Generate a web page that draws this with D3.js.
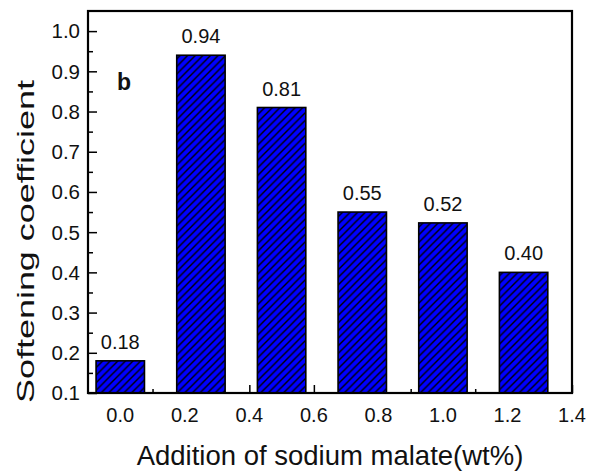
<!DOCTYPE html>
<html>
<head>
<meta charset="utf-8">
<script src="https://cdn.jsdelivr.net/npm/d3@7"></script>
<style>
  body { margin: 0; background: #fff; }
  text { font-family: "Liberation Sans", Arial, sans-serif; fill: #111; }
</style>
</head>
<body>
<div id="chart"></div>
<script>
const width = 593;
const height = 473;

// data
const additions = [0.0, 0.25, 0.5, 0.75, 1.0, 1.25];
const softening = [0.18, 0.94, 0.81, 0.55, 0.523, 0.40];
const valueLabels = ["0.18", "0.94", "0.81", "0.55", "0.52", "0.40"];
const xTicks = [0.0, 0.2, 0.4, 0.6, 0.8, 1.0, 1.2, 1.4];
const yTicks = [0.1, 0.2, 0.3, 0.4, 0.5, 0.6, 0.7, 0.8, 0.9, 1.0];

const margin = { left: 88, right: 21, top: 11, bottom: 80 };
const barWidth = 0.15;

const x = d3.scaleLinear().domain([-0.1, 1.4]).range([margin.left, width - margin.right]);
const y = d3.scaleLinear().domain([0.1, 1.05]).range([height - margin.bottom, margin.top]);

const svg = d3.select("#chart")
    .append("svg")
    .attr("width", width)
    .attr("height", height);

// hatch pattern
const defs = svg.append("defs");
const p = 7.6;
const pat = defs.append("pattern")
    .attr("id", "hatch")
    .attr("patternUnits", "userSpaceOnUse")
    .attr("width", p)
    .attr("height", p);
pat.append("rect").attr("width", p).attr("height", p).attr("fill", "#0000ff");
pat.append("path")
    .attr("d", `M0,${p}L${p},0M-1,1L1,-1M${p - 1},${p + 1}L${p + 1},${p - 1}`)
    .attr("stroke", "#000")
    .attr("stroke-width", 1.4);

// axes with inward ticks
const xAxis = d3.axisBottom(x)
    .tickValues(d3.range(0, 15).map(i => i / 10))
    .tickSize(-4)
    .tickFormat("");
const gx = svg.append("g")
    .attr("transform", `translate(0,${y.range()[0]})`)
    .call(xAxis);
gx.selectAll(".tick line")
    .attr("y2", (d, i) => i % 2 === 0 ? -8 : -4)
    .attr("stroke", "#000")
    .attr("stroke-width", 1.5);
gx.select(".domain").remove();

const yAxis = d3.axisLeft(y)
    .tickValues(d3.range(2, 21).map(i => i / 20))
    .tickSize(-5)
    .tickFormat("");
const gy = svg.append("g")
    .attr("transform", `translate(${x.range()[0]},0)`)
    .call(yAxis);
gy.selectAll(".tick line")
    .attr("x2", (d, i) => i % 2 === 0 ? 9 : 5)
    .attr("stroke", "#000")
    .attr("stroke-width", 1.5);
gy.select(".domain").remove();

// tick labels
svg.append("g").selectAll("text")
    .data(xTicks)
    .enter().append("text")
    .attr("x", d => x(d))
    .attr("y", y.range()[0] + 29)
    .attr("text-anchor", "middle")
    .attr("font-size", "20px")
    .text(d => d.toFixed(1));

svg.append("g").selectAll("text")
    .data(yTicks)
    .enter().append("text")
    .attr("x", x.range()[0] - 8)
    .attr("y", d => y(d))
    .attr("dy", "0.36em")
    .attr("text-anchor", "end")
    .attr("font-size", "20.5px")
    .text(d => d.toFixed(1));

// bars
svg.append("g").selectAll("rect")
    .data(additions)
    .enter().append("rect")
    .attr("x", d => x(d - barWidth / 2))
    .attr("width", d => x(d + barWidth / 2) - x(d - barWidth / 2))
    .attr("y", (d, i) => y(softening[i]))
    .attr("height", (d, i) => y.range()[0] - y(softening[i]))
    .attr("fill", "url(#hatch)")
    .attr("stroke", "#000")
    .attr("stroke-width", 1.6);

// value labels
svg.append("g").selectAll("text")
    .data(additions)
    .enter().append("text")
    .attr("x", d => x(d))
    .attr("y", (d, i) => y(softening[i]) - 12)
    .attr("text-anchor", "middle")
    .attr("font-size", "20px")
    .text((d, i) => valueLabels[i]);

// frame
svg.append("rect")
    .attr("x", x.range()[0])
    .attr("y", y.range()[1])
    .attr("width", x.range()[1] - x.range()[0])
    .attr("height", y.range()[0] - y.range()[1])
    .attr("fill", "none")
    .attr("stroke", "#000")
    .attr("stroke-width", 2.2);

// panel letter
svg.append("text")
    .attr("x", 117)
    .attr("y", 90)
    .attr("font-size", "23px")
    .attr("font-weight", "bold")
    .text("b");

// axis titles
svg.append("text")
    .attr("x", (x.range()[0] + x.range()[1]) / 2)
    .attr("y", 465)
    .attr("text-anchor", "middle")
    .attr("font-size", "27.5px")
    .text("Addition of sodium malate(wt%)");

svg.append("text")
    .attr("transform", `translate(34,${241.5}) rotate(-90)`)
    .attr("text-anchor", "middle")
    .attr("font-size", "24.5px")
    .attr("textLength", 323)
    .attr("lengthAdjust", "spacingAndGlyphs")
    .text("Softening coefficient");
</script>
</body>
</html>
